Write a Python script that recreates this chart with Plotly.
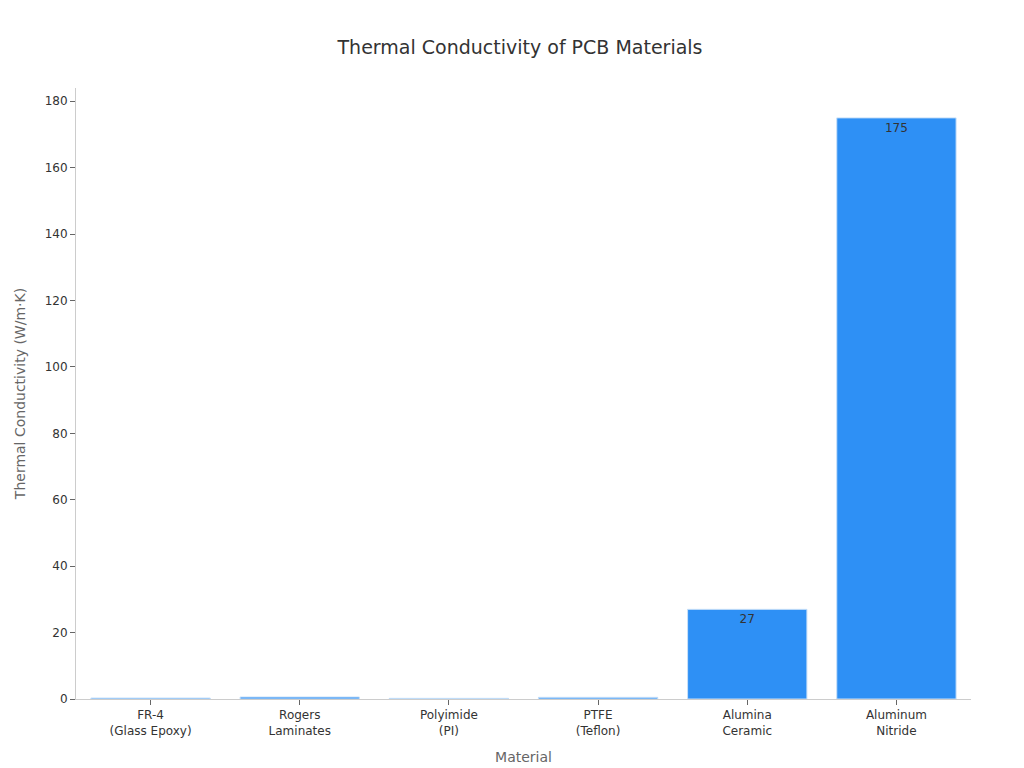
import plotly.graph_objects as go

materials = ["FR-4<br>(Glass Epoxy)", "Rogers<br>Laminates", "Polyimide<br>(PI)", "PTFE<br>(Teflon)", "Alumina<br>Ceramic", "Aluminum<br>Nitride"]
conductivity = [0.3, 0.6, 0.2, 0.5, 27, 175]
labels = ["", "", "", "", "27", "175"]

fig = go.Figure(go.Bar(
    x=materials, y=conductivity, text=labels, textposition="inside",
    insidetextanchor="end", textfont=dict(color="#333333", size=12),
    marker=dict(color="#2E90F5", line=dict(color="#C9E0F8", width=1)),
    width=0.8,
))
fig.update_layout(
    width=1024, height=768,
    font=dict(family="DejaVu Sans, Noto Sans", color="#333333"),
    title=dict(text="Thermal Conductivity of PCB Materials", x=0.5, y=0.957, font=dict(size=19, color="#333333")),
    paper_bgcolor="white", plot_bgcolor="white",
    margin=dict(l=68, r=61, t=80, b=77),
    showlegend=False,
)
fig.update_xaxes(title=dict(text="Material", font=dict(size=14, color="#666666")),
                 showline=True, linecolor="#cccccc", ticks="outside", tickcolor="#666666", ticklen=5,
                 tickfont=dict(size=12))
fig.update_yaxes(title=dict(text="Thermal Conductivity (W/m·K)", font=dict(size=14, color="#666666")),
                 range=[0, 184], dtick=20, showgrid=False, zeroline=False,
                 showline=True, linecolor="#cccccc", ticks="outside", tickcolor="#666666", ticklen=5,
                 tickfont=dict(size=12))
fig.write_html("out.html")
